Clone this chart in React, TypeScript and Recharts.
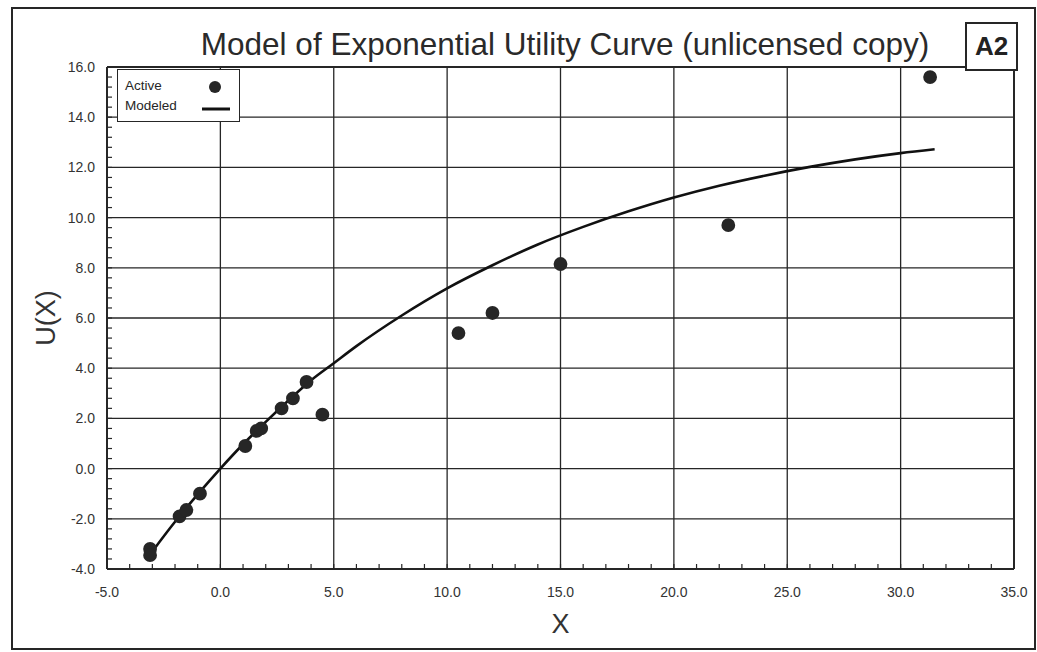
import React from 'react';
import {
  ComposedChart,
  Line,
  Scatter,
  XAxis,
  YAxis,
  ZAxis,
  CartesianGrid,
  ReferenceLine,
  Legend,
} from 'recharts';

const activeX = [-3.1, -3.1, -1.8, -1.5, -0.9, 1.1, 1.6, 1.8, 2.7, 3.2, 3.8, 4.5, 10.5, 12.0, 15.0, 22.4, 31.3];
const activeY = [-3.2, -3.45, -1.9, -1.65, -1.0, 0.9, 1.5, 1.6, 2.4, 2.8, 3.45, 2.15, 5.4, 6.2, 8.15, 9.7, 15.6];

const modeledX = [-3, -2, -1, 0, 1, 2, 3, 4, 5, 6, 8, 10, 12, 14, 16, 18, 20, 22, 24, 26, 28, 30, 31.5];
const modeledY = [-3.3, -2.12, -1.03, 0, 0.97, 1.86, 2.71, 3.52, 4.2, 4.88, 6.1, 7.18, 8.1, 8.93, 9.63, 10.25, 10.8, 11.27, 11.67, 12.02, 12.32, 12.57, 12.72];

const xTicks = [-5, 0, 5, 10, 15, 20, 25, 30, 35];
const yTicks = [-4, -2, 0, 2, 4, 6, 8, 10, 12, 14, 16];
const xMinorTicks = Array.from({ length: 41 }, (_, i) => i - 5);
const yMinorTicks = Array.from({ length: 51 }, (_, i) => -4 + i * 0.4);
const X_MIN = -5;
const X_MAX = 35;
const Y_MIN = -4;
const Y_MAX = 16;

const titleText = 'Model of Exponential Utility Curve (unlicensed copy)';
const badgeText = 'A2';
const xLabel = 'X';
const yLabel = 'U(X)';

const activeData = activeX.map((x, i) => ({ x, y: activeY[i] }));
const modeledData = modeledX.map((x, i) => ({ x, y: modeledY[i] }));
const xMinorData = xMinorTicks.map((x) => ({ x, y: Y_MIN }));
const yMinorData = yMinorTicks.map((y) => ({ x: X_MIN, y }));

const INK = '#262626';
const FONT = '"Liberation Sans", Arial, sans-serif';

const XMinorTick = (props: any) => (
  <line x1={props.cx} y1={props.cy} x2={props.cx} y2={props.cy - 5} stroke={INK} strokeWidth={1.2} />
);
const YMinorTick = (props: any) => (
  <line x1={props.cx} y1={props.cy} x2={props.cx + 5} y2={props.cy} stroke={INK} strokeWidth={1.2} />
);

const LegendBox = () => (
  <div
    style={{
      width: 123,
      height: 53,
      border: `1.5px solid ${INK}`,
      background: '#fff',
      fontFamily: FONT,
      fontSize: 13.5,
      color: INK,
      position: 'relative',
      boxSizing: 'border-box',
    }}
  >
    <div style={{ position: 'absolute', left: 7, top: 8 }}>Active</div>
    <div style={{ position: 'absolute', left: 7, top: 28 }}>Modeled</div>
    <svg width={123} height={53} style={{ position: 'absolute', left: 0, top: 0 }}>
      <circle cx={97} cy={17} r={6} fill={INK} />
      <line x1={84} y1={39} x2={112} y2={39} stroke="#111" strokeWidth={3} />
    </svg>
  </div>
);

export default function App() {
  return (
    <div
      style={{
        position: 'absolute',
        left: 0,
        top: 0,
        width: 1037,
        height: 652,
        background: '#fff',
        fontFamily: FONT,
      }}
    >
      <ComposedChart
        width={1037}
        height={652}
        margin={{ top: 67, right: 23, bottom: 33, left: 47 }}
      >
        <CartesianGrid stroke={INK} strokeWidth={1.3} fill="none" />
        <XAxis
          type="number"
          dataKey="x"
          domain={[X_MIN, X_MAX]}
          ticks={xTicks}
          height={50}
          tickLine={false}
          tickMargin={12}
          axisLine={{ stroke: INK, strokeWidth: 2 }}
          tick={{ fill: '#333', fontSize: 14, fontFamily: FONT }}
          tickFormatter={(v: number) => v.toFixed(1)}
          allowDataOverflow
          label={{ value: xLabel, position: 'insideBottom', offset: -14, fill: '#333', fontSize: 27, fontFamily: FONT }}
        />
        <YAxis
          type="number"
          dataKey="y"
          domain={[Y_MIN, Y_MAX]}
          ticks={yTicks}
          width={60}
          tickLine={false}
          tickMargin={6}
          axisLine={{ stroke: INK, strokeWidth: 2 }}
          tick={{ fill: '#333', fontSize: 14, fontFamily: FONT }}
          tickFormatter={(v: number) => v.toFixed(1)}
          allowDataOverflow
          label={{ value: yLabel, angle: -90, position: 'insideLeft', offset: -2, fill: '#333', fontSize: 27, fontFamily: FONT, style: { textAnchor: 'middle' } }}
        />
        <ZAxis range={[150, 150]} />
        <ReferenceLine x={X_MAX} stroke={INK} strokeWidth={2} ifOverflow="visible" />
        <ReferenceLine y={Y_MAX} stroke={INK} strokeWidth={2} ifOverflow="visible" />
        <Scatter
          data={xMinorData}
          dataKey="y"
          shape={XMinorTick}
          legendType="none"
          isAnimationActive={false}
        />
        <Scatter
          data={yMinorData}
          dataKey="y"
          shape={YMinorTick}
          legendType="none"
          isAnimationActive={false}
        />
        <Line
          data={modeledData}
          dataKey="y"
          type="monotone"
          stroke="#111"
          strokeWidth={2.6}
          dot={false}
          name="Modeled"
          isAnimationActive={false}
        />
        <Scatter
          data={activeData}
          dataKey="y"
          fill={INK}
          shape="circle"
          name="Active"
          isAnimationActive={false}
        />
        <Legend
          layout="vertical"
          align="center"
          verticalAlign="middle"
          content={() => <LegendBox />}
          wrapperStyle={{ left: 117, top: 69, width: 123, height: 53 }}
        />
      </ComposedChart>

      {/* page frame */}
      <div
        style={{
          position: 'absolute',
          left: 11,
          top: 7,
          width: 1025,
          height: 643,
          border: `2px solid ${INK}`,
          boxSizing: 'border-box',
          pointerEvents: 'none',
        }}
      />
      {/* title */}
      <div
        style={{
          position: 'absolute',
          left: 100,
          top: 25,
          width: 930,
          textAlign: 'center',
          fontSize: 31.5,
          lineHeight: '38px',
          color: '#2a2a2a',
          fontFamily: FONT,
          whiteSpace: 'nowrap',
        }}
      >
        {titleText}
      </div>
      {/* badge */}
      <div
        style={{
          position: 'absolute',
          left: 965,
          top: 22,
          width: 53,
          height: 49,
          border: `2px solid ${INK}`,
          boxSizing: 'border-box',
          background: '#fff',
          fontSize: 26,
          fontWeight: 'bold',
          color: '#222',
          textAlign: 'center',
          lineHeight: '45px',
          fontFamily: FONT,
        }}
      >
        {badgeText}
      </div>
    </div>
  );
}
